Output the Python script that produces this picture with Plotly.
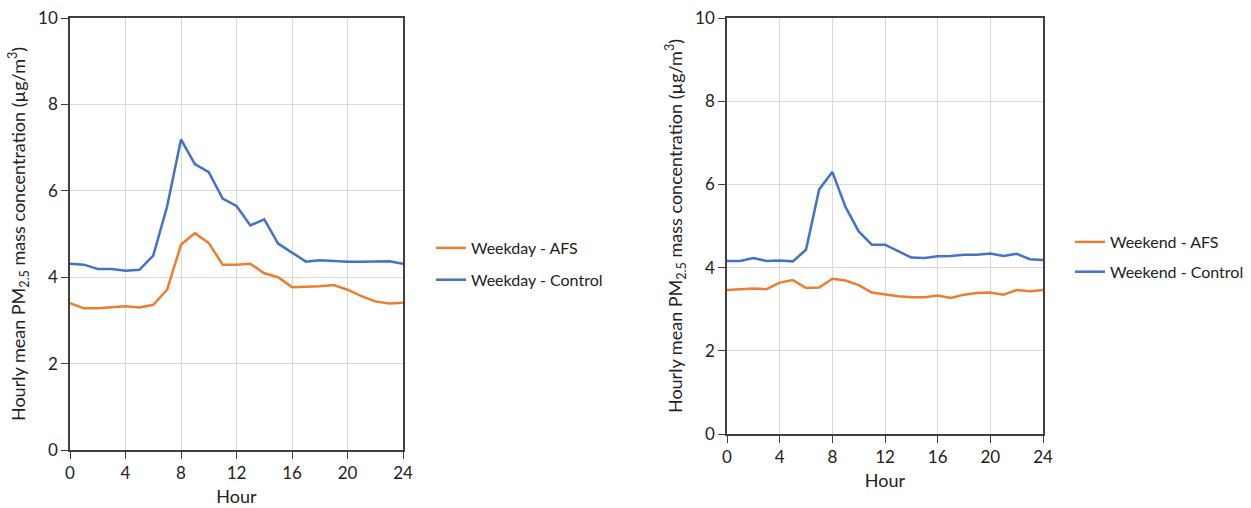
import plotly.graph_objects as go

hours = list(range(25))

weekday_afs = [3.40, 3.28, 3.28, 3.31, 3.33, 3.30, 3.36, 3.71, 4.75, 5.02, 4.79, 4.29, 4.29,
               4.31, 4.09, 4.00, 3.77, 3.78, 3.79, 3.82, 3.71, 3.56, 3.44, 3.39, 3.41]
weekday_control = [4.31, 4.29, 4.19, 4.19, 4.15, 4.17, 4.50, 5.64, 7.19, 6.62, 6.43, 5.82, 5.65,
                   5.20, 5.34, 4.78, 4.57, 4.36, 4.39, 4.37, 4.36, 4.36, 4.37, 4.37, 4.31]
weekend_afs = [3.46, 3.48, 3.50, 3.48, 3.64, 3.70, 3.51, 3.52, 3.73, 3.69, 3.58, 3.40, 3.36,
               3.31, 3.29, 3.29, 3.33, 3.27, 3.35, 3.39, 3.40, 3.35, 3.46, 3.43, 3.46]
weekend_control = [4.16, 4.16, 4.23, 4.16, 4.17, 4.15, 4.43, 5.88, 6.30, 5.46, 4.87, 4.55, 4.55,
                   4.39, 4.24, 4.23, 4.27, 4.28, 4.31, 4.31, 4.34, 4.28, 4.33, 4.20, 4.18]

x_ticks = [0, 4, 8, 12, 16, 20, 24]
y_ticks = [0, 2, 4, 6, 8, 10]

ORANGE = "#ED7D31"
BLUE = "#4472C4"
FONT = "Lato"
AXC = "#404040"
TXT = "#222"

fig = go.Figure()
fig.add_trace(go.Scatter(x=hours, y=weekday_afs, mode="lines", name="Weekday - AFS",
                         line=dict(color=ORANGE, width=2.5), xaxis="x", yaxis="y",
                         legend="legend", legendgroup="a"))
fig.add_trace(go.Scatter(x=hours, y=weekday_control, mode="lines", name="Weekday - Control",
                         line=dict(color=BLUE, width=2.5), xaxis="x", yaxis="y",
                         legend="legend", legendgroup="b"))
fig.add_trace(go.Scatter(x=hours, y=weekend_afs, mode="lines", name="Weekend - AFS",
                         line=dict(color=ORANGE, width=2.5), xaxis="x2", yaxis="y2",
                         legend="legend2", legendgroup="c"))
fig.add_trace(go.Scatter(x=hours, y=weekend_control, mode="lines", name="Weekend - Control",
                         line=dict(color=BLUE, width=2.5), xaxis="x2", yaxis="y2",
                         legend="legend2", legendgroup="d"))

W, H = 1251, 508

def xd(a, b):
    return [a / W, b / W]

def yd(top, bottom):
    return [(H - bottom) / H, (H - top) / H]

ytitle = "Hourly mean PM<sub>2.5</sub> mass concentration (µg/m<sup>3</sup>)"

common_x = dict(range=[0, 24], tickvals=x_ticks, ticks="outside", ticklen=7, tickcolor=AXC,
                showline=True, linecolor=AXC, linewidth=1.5, mirror=True,
                showgrid=True, gridcolor="#d9d9d9", gridwidth=1, zeroline=False,
                tickfont=dict(family=FONT, size=17, color=TXT), automargin=False,
                title=dict(text="Hour", font=dict(family=FONT, size=18, color=TXT), standoff=8))
common_y = dict(range=[0, 10], tickvals=y_ticks, ticks="outside", ticklen=7, tickcolor=AXC,
                showline=True, linecolor=AXC, linewidth=1.5, mirror=True,
                showgrid=True, gridcolor="#d9d9d9", gridwidth=1, zeroline=False,
                tickfont=dict(family=FONT, size=17, color=TXT), automargin=False,
                title=dict(text=ytitle, font=dict(family=FONT, size=18, color=TXT), standoff=8))

fig.update_layout(
    width=W, height=H,
    margin=dict(l=0, r=0, t=0, b=0, autoexpand=False),
    paper_bgcolor="white", plot_bgcolor="white",
    showlegend=True,
    xaxis=dict(domain=xd(70, 403), anchor="y", **common_x),
    yaxis=dict(domain=yd(18, 450), anchor="x", **common_y),
    xaxis2=dict(domain=xd(727, 1043), anchor="y2", **common_x),
    yaxis2=dict(domain=yd(18, 434), anchor="x2", **common_y),
    legend=dict(x=431 / W, y=(H - 231) / H, xanchor="left", yanchor="top",
                font=dict(family=FONT, size=16, color=TXT), tracegroupgap=8,
                bgcolor="rgba(0,0,0,0)"),
    legend2=dict(x=1070 / W, y=(H - 225) / H, xanchor="left", yanchor="top",
                 font=dict(family=FONT, size=16, color=TXT), tracegroupgap=6,
                 bgcolor="rgba(0,0,0,0)"),
)

fig.write_html("out.html", config={"displayModeBar": False},
               post_script="document.body.style.margin='0';document.body.style.padding='0';")
